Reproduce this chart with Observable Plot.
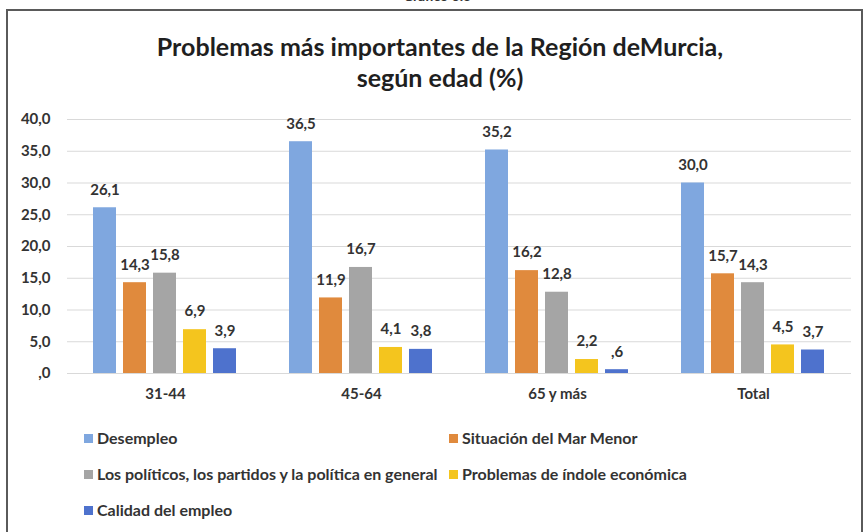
<!DOCTYPE html>
<html>
<head>
<meta charset="utf-8">
<script src="https://cdn.jsdelivr.net/npm/d3@7"></script>
<script src="https://cdn.jsdelivr.net/npm/@observablehq/plot@0.6"></script>
<style>
  html, body { margin: 0; padding: 0; background: #fff; }
  body { width: 868px; height: 532px; overflow: hidden; position: relative; font-family: Lato, "Open Sans", sans-serif; color: #262626; }
  #caption { position: absolute; top: -13px; left: 0; width: 874px; text-align: center; font-size: 14px; font-weight: bold; color: #333; }
  #frame { position: absolute; left: 6px; top: 9px; width: 857px; height: 560px; border: 2px solid #5a5a5a; border-bottom: none; box-sizing: border-box; }
  #title { position: absolute; top: 31px; left: 0; width: 880px; text-align: center; font-size: 25px; font-weight: bold; line-height: 31px; color: #1f1f1f; }
  #chart { position: absolute; left: 0; top: 95px; }
  .leg { position: absolute; font-size: 16px; font-weight: bold; color: #333; white-space: nowrap; line-height: 18px; }
  .leg span.sw { display: inline-block; width: 9px; height: 9px; margin-right: 4px; vertical-align: 1px; }
</style>
</head>
<body>
<div id="caption">Gráfico 6.3</div>
<div id="frame"></div>
<div id="title">Problemas más importantes de la Región deMurcia,<br>según edad (%)</div>
<div id="chart"></div>
<div id="legend"></div>
<script>
const groups = ["31-44", "45-64", "65 y más", "Total"];
const series = [
  "Desempleo",
  "Situación del Mar Menor",
  "Los políticos, los partidos y la política en general",
  "Problemas de índole económica",
  "Calidad del empleo"
];
const desempleo = [26.1, 36.5, 35.2, 30.0];
const marMenor = [14.3, 11.9, 16.2, 15.7];
const politicos = [15.8, 16.7, 12.8, 14.3];
const economica = [6.9, 4.1, 2.2, 4.5];
const calidadEmpleo = [3.9, 3.8, 0.6, 3.7];
const colors = ["#7fa7df", "#e08a3d", "#a5a5a5", "#f4c51e", "#4e72cd"];
const yTicks = [0, 5, 10, 15, 20, 25, 30, 35, 40];

const seriesValues = [desempleo, marMenor, politicos, economica, calidadEmpleo];
const data = groups.flatMap((g, i) => series.map((s, j) => ({group: g, serie: s, value: seriesValues[j][i]})));

const fmt = v => d3.format(".1f")(v).replace(".", ",").replace(/^0,/, ",");

const chart = Plot.plot({
  width: 868,
  height: 313,
  marginTop: 24,
  marginBottom: 35,
  marginLeft: 67,
  marginRight: 17,
  style: {fontFamily: "Lato, 'Open Sans', sans-serif", color: "#333", background: "transparent"},
  fx: {domain: groups, padding: 0, label: null},
  x: {domain: series, paddingInner: 0.233, paddingOuter: 0.883, axis: null},
  y: {domain: [0, 40], label: null},
  color: {domain: series, range: colors},
  marks: [
    Plot.gridY(yTicks, {stroke: "#d9d9d9", strokeOpacity: 1, strokeWidth: 1}),
    Plot.barY(data, {fx: "group", x: "serie", y: "value", fill: "serie"}),
    Plot.text(data, {fx: "group", x: "serie", y: "value", text: d => fmt(d.value), dy: -18, fontSize: 15, fontWeight: "bold", fill: "#333"}),
    Plot.axisY(yTicks, {tickFormat: fmt, tickSize: 0, tickPadding: 17, fontSize: 15, fontWeight: "bold", label: null}),
    Plot.axisFx({anchor: "bottom", tickSize: 0, tickPadding: 15, fontSize: 15, fontWeight: "bold", label: null})
  ]
});
document.getElementById("chart").appendChild(chart);

// legend (HTML, below the SVG)
const legendPos = [
  {x: 84, y: 429}, {x: 449, y: 429},
  {x: 84, y: 465}, {x: 449, y: 465},
  {x: 84, y: 501}
];
const legend = document.getElementById("legend");
series.forEach((s, i) => {
  const d = document.createElement("div");
  d.className = "leg";
  d.style.left = legendPos[i].x + "px";
  d.style.top = legendPos[i].y + "px";
  const sw = document.createElement("span");
  sw.className = "sw";
  sw.style.background = colors[i];
  d.appendChild(sw);
  d.appendChild(document.createTextNode(s));
  legend.appendChild(d);
});
</script>
</body>
</html>
